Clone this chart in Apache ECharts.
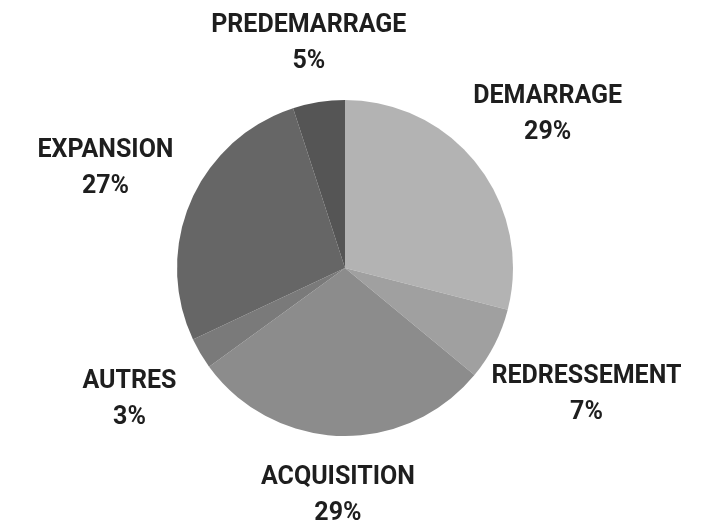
<!DOCTYPE html>
<html><head><meta charset="utf-8">
<script src="https://cdn.jsdelivr.net/npm/echarts@6/dist/echarts.min.js"></script>
<style>html,body{margin:0;padding:0;background:#fff}#c{width:712px;height:522px}</style>
</head><body><div id="c"></div>
<script>
var categories = ['DEMARRAGE','REDRESSEMENT','ACQUISITION','AUTRES','EXPANSION','PREDEMARRAGE'];
var values = [29, 7, 29, 3, 27, 5];
var colors = ['#b3b3b3','#a0a0a0','#8c8c8c','#7a7a7a','#666666','#555555'];

var CX = 345, CY = 268, R = 168;
var chart = echarts.init(document.getElementById('c'));
chart.setOption({
  backgroundColor: '#fff',
  animation: false,
  series: [{
    type: 'pie',
    center: [CX, CY],
    radius: [0, R],
    startAngle: 90,
    clockwise: true,
    avoidLabelOverlap: false,
    data: categories.map(function(n,i){return {name:n, value:values[i], itemStyle:{color:colors[i]}};}),
    label: {
      show: true, position: 'outside',
      formatter: function(p){ return p.name + '\n' + p.value + '%'; },
      fontFamily: 'Roboto', fontWeight: 'bold', fontSize: 25, lineHeight: 36,
      color: '#1e1e1e', align: 'center'
    },
    labelLine: { show: true, length: 10, length2: 0, lineStyle: { opacity: 0 } },
    labelLayout: function(p){
      var pts = p.labelLinePoints;
      var ux, uy;
      if (pts && pts.length >= 2) {
        ux = pts[1][0]-pts[0][0]; uy = pts[1][1]-pts[0][1];
        var l = Math.sqrt(ux*ux+uy*uy) || 1; ux/=l; uy/=l;
      } else { ux = 0; uy = -1; }
      var w = p.labelRect.width;
      var up = Math.max(0, -uy);
      var d = R + 24 + 46*Math.abs(ux) + 0.2*w - 7*up*up*up;
      return { x: CX + ux*d, y: CY + 4 + uy*d, align: 'center', verticalAlign: 'middle' };
    },
    emphasis: { disabled: true }
  }]
});
</script></body></html>
